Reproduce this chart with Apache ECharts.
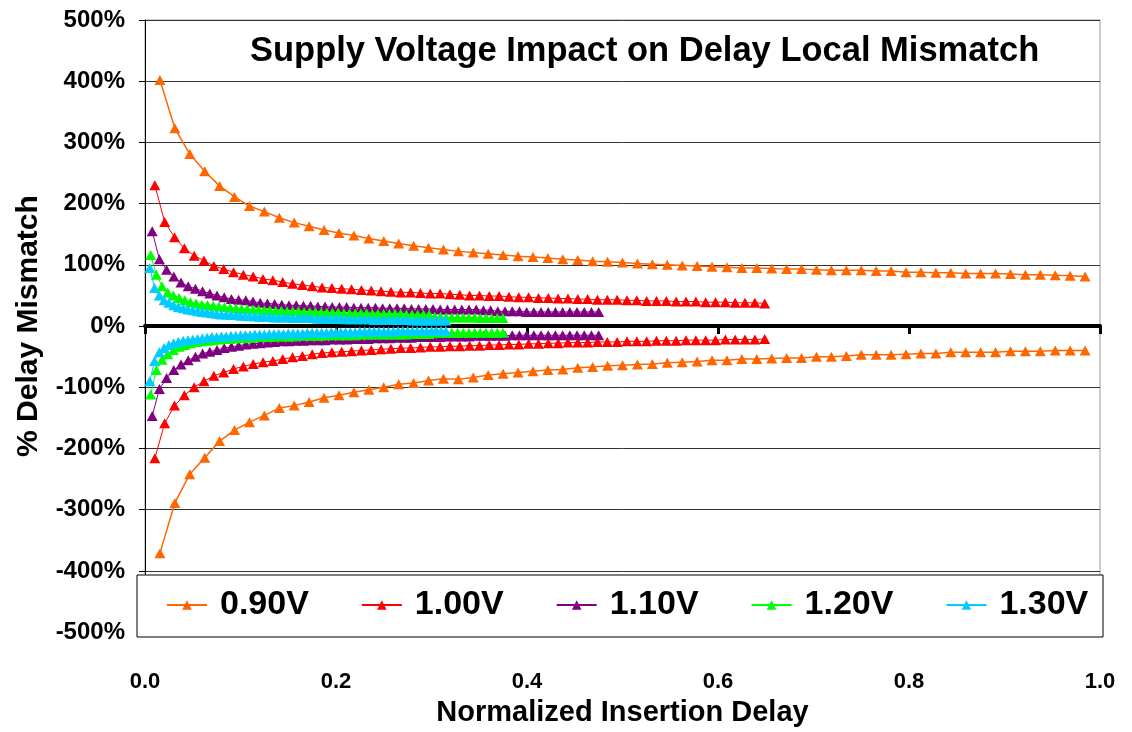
<!DOCTYPE html>
<html>
<head>
<meta charset="utf-8">
<title>Supply Voltage Impact on Delay Local Mismatch</title>
<script src="https://cdn.jsdelivr.net/npm/echarts@6/dist/echarts.min.js"></script>
<style>
  html, body { margin: 0; padding: 0; background: #fff; }
  #chart { width: 1132px; height: 732px; }
</style>
</head>
<body>
<div id="chart"></div>
<script>
// Supply voltages (legend entries) and per-voltage delay step between samples
const voltages = ['0.90V', '1.00V', '1.10V', '1.20V', '1.30V'];
const colors = ['#FF6600', '#FF0000', '#800080', '#00FF00', '#00CCFF'];
const delayStep = [0.015625, 0.01030, 0.00754, 0.00595, 0.00500];

// Y axis tick labels
const yTicks = [-500, -400, -300, -200, -100, 0, 100, 200, 300, 400, 500];

// % delay mismatch, upper (+) and lower (-) envelopes, 63 samples each
const up090 = [402, 323, 281, 253, 229, 211, 196, 187, 177, 169,
  163, 157, 152, 148, 143, 139, 135, 131, 128, 125,
  122, 120, 118, 116, 114, 113, 111, 109, 108, 106,
  105, 104, 102, 101, 100, 99, 98, 97, 96, 95,
  95, 94, 93, 93, 92, 91, 91, 91, 90, 90,
  88, 88, 87, 87, 86, 86, 86, 85, 84, 84,
  83, 82, 81];
const lo090 = [-371, -289, -242, -215, -188, -170, -157, -146, -134, -130,
  -124, -117, -113, -108, -104, -100, -95, -93, -89, -86,
  -87, -84, -80, -78, -76, -74, -72, -71, -68, -67,
  -65, -64, -63, -62, -60, -59, -58, -56, -56, -54,
  -54, -53, -52, -52, -50, -50, -49, -47, -47, -47,
  -46, -45, -45, -43, -43, -43, -43, -41, -41, -41,
  -40, -40, -40];

const up100 = [230, 170, 145, 127, 115, 107, 98, 93, 88, 84,
  81, 77, 75, 72, 69, 67, 65, 63, 62, 61,
  60, 59, 58, 57, 56, 55, 55, 54, 53, 53,
  52, 51, 50, 50, 49, 49, 48, 47, 47, 46,
  46, 45, 45, 44, 44, 43, 43, 43, 42, 42,
  41, 41, 41, 40, 40, 40, 39, 39, 39, 38,
  38, 38, 37];
const lo100 = [-216, -159, -130, -113, -100, -90, -81, -76, -70, -66,
  -62, -59, -57, -54, -51, -49, -46, -44, -43, -42,
  -41, -40, -39, -38, -37, -36, -36, -35, -34, -34,
  -33, -33, -32, -32, -31, -31, -30, -30, -29, -29,
  -28, -28, -27, -27, -27, -26, -26, -26, -25, -25,
  -25, -24, -24, -24, -23, -23, -23, -23, -22, -22,
  -22, -22, -21];

const up110 = [155, 109, 92, 81, 71, 65, 61, 57, 53, 50,
  47, 44, 43, 42, 40, 38, 37, 36, 35, 34,
  34, 33, 33, 32, 32, 31, 31, 31, 30, 30,
  30, 30, 29, 29, 29, 29, 28, 28, 28, 28,
  27, 27, 27, 27, 27, 27, 26, 26, 24, 24,
  24, 24, 23, 23, 23, 23, 23, 23, 23, 23,
  23, 23, 23];
const lo110 = [-147, -103, -85, -72, -63, -56, -50, -45, -42, -39,
  -36, -34, -32, -30, -29, -28, -27, -26, -25, -25,
  -24, -24, -23, -23, -23, -22, -22, -22, -21, -21,
  -21, -20, -20, -20, -19, -19, -19, -18, -18, -18,
  -18, -17, -17, -17, -17, -16, -16, -16, -16, -16,
  -15, -15, -15, -15, -15, -15, -15, -15, -15, -15,
  -15, -15, -15];

const up120 = [116, 84, 65, 55, 50, 46, 42, 39, 37, 35,
  34, 33, 32, 31, 30, 29, 28, 28, 27, 27,
  26, 26, 25, 25, 24, 24, 24, 23, 23, 23,
  22, 22, 22, 22, 21, 21, 21, 21, 21, 20,
  20, 20, 20, 20, 20, 19, 19, 19, 19, 19,
  15, 15, 14, 14, 14, 14, 14, 14, 13, 13,
  13, 13, 13];
const lo120 = [-112, -72, -55, -46, -39, -34, -31, -28, -26, -25,
  -24, -23, -22, -21, -21, -20, -20, -19, -19, -18,
  -18, -18, -17, -17, -17, -17, -16, -16, -16, -16,
  -16, -15, -15, -15, -15, -15, -15, -14, -14, -14,
  -14, -14, -14, -14, -14, -14, -13, -13, -13, -13,
  -11, -11, -11, -11, -11, -11, -11, -11, -11, -11,
  -11, -11, -11];

const up130 = [95, 62, 50, 42, 38, 34, 31, 29, 27, 26,
  24, 23, 22, 21, 20, 19, 19, 18, 18, 17,
  17, 16, 16, 15, 15, 15, 14, 14, 14, 14,
  13, 13, 13, 13, 13, 12, 12, 12, 12, 12,
  12, 11, 11, 11, 11, 11, 11, 10, 10, 10,
  10, 10, 10, 10, 10, 9, 9, 9, 9, 9,
  9, 9, 9];
const lo130 = [-90, -57, -43, -36, -31, -28, -26, -24, -23, -22,
  -21, -20, -19, -18, -18, -17, -17, -16, -16, -15,
  -15, -15, -14, -14, -14, -13, -13, -13, -13, -12,
  -12, -12, -12, -11, -11, -11, -11, -11, -10, -10,
  -10, -10, -10, -10, -9, -9, -9, -9, -9, -9,
  -9, -9, -8, -8, -8, -8, -8, -8, -8, -8,
  -8, -8, -8];

const upper = [up090, up100, up110, up120, up130];
const lower = [lo090, lo100, lo110, lo120, lo130];

const FONT = "'Liberation Sans', Arial, Helvetica, sans-serif";

function toPoints(values, step) {
  return values.map((v, k) => [(k + 1) * step, v]);
}

const series = [];
voltages.forEach((name, i) => {
  [upper[i], lower[i]].forEach((vals) => {
    series.push({
      type: 'line',
      name: name,
      data: toPoints(vals, delayStep[i]),
      xAxisIndex: 0,
      yAxisIndex: 0,
      symbol: 'triangle',
      symbolSize: [11, 10],
      showAllSymbol: true,
      color: colors[i],
      lineStyle: { color: colors[i], width: i === 0 ? 1.5 : 1 },
      itemStyle: { color: colors[i] },
      z: 2 + i,
      animation: false
    });
  });
});

const chart = echarts.init(document.getElementById('chart'), null, { renderer: 'canvas' });

const common = { min: 0, max: 1, interval: 0.2, gridIndex: 0, type: 'value' };

chart.setOption({
  backgroundColor: '#ffffff',
  animation: false,
  textStyle: { fontFamily: FONT },
  title: {
    text: 'Supply Voltage Impact on Delay Local Mismatch',
    left: 250,
    top: 34,
    padding: 0,
    textStyle: { fontFamily: FONT, fontSize: 34.5, fontWeight: 'bold', color: '#000' }
  },
  grid: {
    left: 145, right: 32, top: 20, bottom: 96,
    show: true, borderColor: '#9a9a9a', borderWidth: 1, backgroundColor: 'transparent'
  },
  xAxis: [
    Object.assign({}, common, {
      position: 'bottom',
      name: 'Normalized Insertion Delay',
      nameLocation: 'middle',
      nameGap: 64,
      nameTextStyle: { fontFamily: FONT, fontSize: 29, fontWeight: 'bold', color: '#000' },
      axisLine: { show: false, onZero: false },
      axisTick: { show: false },
      splitLine: { show: false },
      axisLabel: {
        margin: 39, fontFamily: FONT, fontSize: 22, fontWeight: 'bold', color: '#000',
        formatter: (v) => v.toFixed(1)
      }
    }),
    Object.assign({}, common, {
      position: 'bottom',
      axisLine: { show: true, onZero: true, lineStyle: { color: '#000', width: 4 } },
      axisTick: { show: true, inside: false, length: 8, lineStyle: { color: '#000', width: 3 } },
      axisLabel: { show: false },
      splitLine: { show: false }
    }),
    Object.assign({}, common, {
      position: 'bottom',
      axisLine: { show: false, onZero: true },
      axisTick: { show: true, inside: true, length: 8, lineStyle: { color: '#000', width: 3 } },
      axisLabel: { show: false },
      splitLine: { show: false }
    })
  ],
  yAxis: [{
    type: 'value',
    min: yTicks[0],
    max: yTicks[yTicks.length - 1],
    interval: 100,
    name: '% Delay Mismatch',
    nameLocation: 'middle',
    nameRotate: 90,
    nameGap: 101,
    nameTextStyle: { fontFamily: FONT, fontSize: 30, fontWeight: 'bold', color: '#000' },
    axisLine: { show: true, onZero: false, lineStyle: { color: '#000', width: 1 } },
    axisTick: { show: true, inside: false, length: 6, lineStyle: { color: '#000', width: 1 } },
    splitLine: { show: true, lineStyle: { color: '#333', width: 1 } },
    axisLabel: {
      margin: 20, fontFamily: FONT, fontSize: 24, fontWeight: 'bold', color: '#000',
      formatter: (v) => v + '%'
    }
  }],
  legend: {
    data: voltages,
    left: 166,
    top: 588,
    padding: 0,
    itemWidth: 40,
    itemHeight: 12,
    itemGap: 52,
    z: 10,
    textStyle: { fontFamily: FONT, fontSize: 34, fontWeight: 'bold', color: '#000', padding: [0, 0, 0, 8] }
  },
  graphic: [{
    type: 'rect',
    z: 8,
    shape: { x: 137, y: 575, width: 966, height: 62 },
    style: { fill: '#fff', stroke: '#000', lineWidth: 1 }
  }],
  series: series
});
</script>
</body>
</html>
